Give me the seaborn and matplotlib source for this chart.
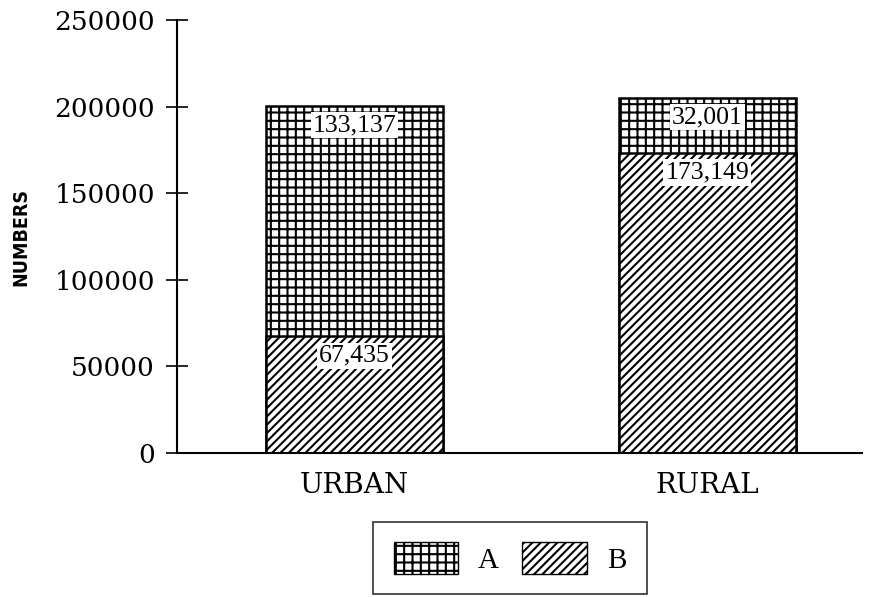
import matplotlib
matplotlib.use("Agg")
import matplotlib.pyplot as plt
from matplotlib.patches import Patch
import seaborn as sns
import pandas as pd

# Population counts by area, split into groups A and B
categories = ["URBAN", "RURAL"]
group_a = [133137, 32001]
group_b = [67435, 173149]
y_ticks = [0, 50000, 100000, 150000, 200000, 250000]

sns.set_style("white")
plt.rcParams.update({
    "hatch.linewidth": 1.5,
    "hatch.color": "black",
    "text.color": "black",
    "xtick.color": "black",
    "ytick.color": "black",
    "axes.edgecolor": "black",
})

totals = [a + b for a, b in zip(group_a, group_b)]
df = pd.DataFrame({"area": categories, "A": group_a, "B": group_b, "total": totals})

fig = plt.figure(figsize=(8.78, 5.97), dpi=100)
ax = fig.add_axes([177 / 878, 144 / 597, (862 - 177) / 878, (453 - 20) / 597])

hatch_a = "++"
hatch_b = "////"

# full stack (group A pattern), then group B drawn over its lower part
sns.barplot(data=df, x="area", y="total", ax=ax, width=0.5, color="white",
            edgecolor="black", linewidth=1.8, hatch=hatch_a, saturation=1)
sns.barplot(data=df, x="area", y="B", ax=ax, width=0.5, color="white",
            edgecolor="black", linewidth=1.8, hatch=hatch_b, saturation=1)

label_font = dict(family="Liberation Serif", size=18.5, color="black")
box = dict(boxstyle="square,pad=0.08", fc="white", ec="none")
for i, (a, b) in enumerate(zip(group_a, group_b)):
    ax.annotate(f"{a:,}", xy=(i, a + b), xytext=(0, -14), textcoords="offset points",
                ha="center", va="center", bbox=box, **label_font)
    ax.annotate(f"{b:,}", xy=(i, b), xytext=(0, -14), textcoords="offset points",
                ha="center", va="center", bbox=box, **label_font)

ax.set_xlim(-0.503, 1.438)
ax.set_ylim(0, 250000)
ax.set_yticks(y_ticks)
ax.set_yticklabels([str(t) for t in y_ticks], family="DejaVu Serif", fontsize=19)
ax.set_xticks(range(len(categories)))
ax.set_xticklabels(categories, family="DejaVu Serif", fontsize=20)
ax.tick_params(axis="y", left=True, direction="inout", length=16, width=1.2,
               color="black", pad=8, labelcolor="black")
ax.tick_params(axis="x", bottom=False, length=0, pad=14, labelcolor="black")
ax.set_xlabel("")
ax.set_ylabel("")

for side in ("top", "right"):
    ax.spines[side].set_visible(False)
for side in ("left", "bottom"):
    ax.spines[side].set_color("black")
    ax.spines[side].set_linewidth(1.5)

fig.text(21 / 878, 1 - 237 / 597, "NUMBERS", rotation=90, ha="center", va="center",
         family="DejaVu Sans", fontstretch="condensed", fontweight="bold",
         fontsize=14, color="black")

handles = [Patch(facecolor="white", edgecolor="black", hatch=hatch_a, label="A"),
           Patch(facecolor="white", edgecolor="black", hatch=hatch_b, label="B")]
leg = fig.legend(handles=handles, loc="center", bbox_to_anchor=(510 / 878, 1 - 558 / 597),
                 bbox_transform=fig.transFigure, ncol=2, fancybox=False, frameon=True,
                 prop=dict(family="Liberation Serif", size=21), handlelength=2.2,
                 handleheight=1.3, handletextpad=0.7, columnspacing=0.8, borderpad=0.7)
leg.get_frame().set_edgecolor("black")
leg.get_frame().set_linewidth(1.2)
for t in leg.get_texts():
    t.set_color("black")

fig.savefig("out.png", dpi=100, facecolor="white")
